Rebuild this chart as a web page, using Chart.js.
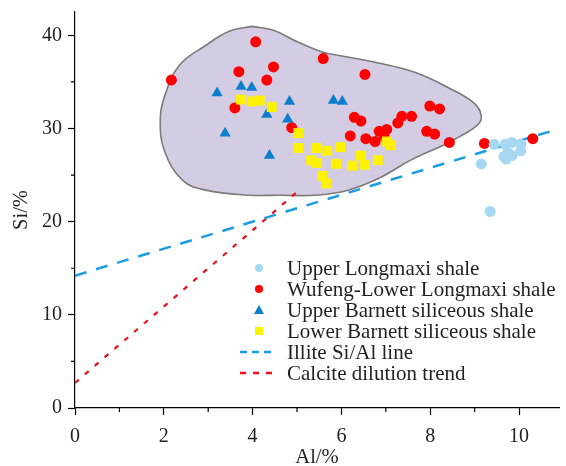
<!DOCTYPE html>
<html>
<head>
<meta charset="utf-8">
<script src="https://cdn.jsdelivr.net/npm/chart.js@4.4.0/dist/chart.umd.min.js"></script>
<style>
  html, body { margin: 0; padding: 0; background: #fff; }
  #wrap { width: 566px; height: 466px; }
</style>
</head>
<body>
<div id="wrap"><canvas id="siAlChart" width="566" height="466"></canvas></div>
<script>
// Si vs Al cross plot of shale samples

const upperLongmaxiAl = [9.44, 9.69, 9.84, 10.04, 10.04, 9.75, 9.66, 9.84, 9.71, 9.15, 9.35];
const upperLongmaxiSi = [28.3, 28.3, 28.5, 28.3, 27.6, 27.4, 27.0, 27.1, 26.7, 26.2, 21.1];

const wufengAl = [2.17, 4.07, 5.59, 4.47, 3.69, 4.32, 6.53, 3.60, 4.88, 6.29, 6.44, 6.20, 6.55, 6.76,
                  6.85, 7.02, 6.96, 7.27, 7.36, 7.58, 7.99, 8.21, 7.92, 8.10, 8.43, 9.22, 10.31];
const wufengSi = [35.2, 39.3, 37.5, 36.6, 36.1, 35.2, 35.8, 32.2, 30.1, 31.2, 30.8, 29.2, 28.9, 28.6,
                  29.7, 29.9, 29.2, 30.6, 31.3, 31.3, 32.4, 32.1, 29.7, 29.4, 28.5, 28.4, 28.9];

const upperBarnettAl = [3.20, 3.74, 3.98, 4.32, 3.38, 4.83, 4.79, 4.38, 5.82, 6.02];
const upperBarnettSi = [33.8, 34.5, 34.4, 31.5, 29.5, 32.9, 31.0, 27.1, 33.0, 32.9];

const lowerBarnettAl = [3.74, 3.98, 4.16, 4.43, 5.03, 5.03, 5.44, 5.68, 5.97, 5.32, 5.44, 5.88, 6.24,
                        6.53, 6.44, 6.82, 5.57, 5.66, 7.02, 7.11];
const lowerBarnettSi = [33.1, 32.9, 33.0, 32.3, 29.5, 27.9, 27.9, 27.6, 28.0, 26.6, 26.3, 26.2, 26.0,
                        26.1, 27.1, 26.6, 24.9, 24.1, 28.6, 28.2];

// envelope around the Barnett / Wufeng field
const envelopeAl = [3.98, 4.47, 5.03, 5.59, 6.04, 6.76, 7.65, 8.39, 8.99, 9.15, 9.06, 8.72, 8.39, 7.56,
                    6.89, 6.15, 5.41, 4.59, 3.91, 2.95, 2.42, 2.01, 1.92, 2.01, 2.35, 2.95, 3.47, 3.98];
const envelopeSi = [40.96, 40.54, 39.25, 38.18, 37.75, 37.10, 36.03, 34.42, 32.71, 31.31, 30.35, 29.28,
                    28.42, 26.60, 24.77, 23.38, 22.84, 22.84, 22.84, 23.38, 24.45, 27.67, 30.88, 33.35,
                    36.78, 38.93, 40.43, 40.96];

const illiteAl = [0, 10.85];
const illiteSi = [14.2, 29.9];
const calciteAl = [0, 5.03];
const calciteSi = [2.7, 23.3];

const xTicks = [0, 2, 4, 6, 8, 10];
const yTicks = [0, 10, 20, 30, 40];

const legendLabels = [
    'Upper Longmaxi shale',
    'Wufeng-Lower Longmaxi shale',
    'Upper Barnett siliceous shale',
    'Lower Barnett siliceous shale',
    'Illite Si/Al line',
    'Calcite dilution trend'
];

const serif = '"Liberation Serif", "Times New Roman", serif';
const textColor = '#231f20';

function pts(xs, ys) {
    return xs.map((x, i) => ({ x: x, y: ys[i] }));
}

// minor ticks + legend drawn on top
const extrasPlugin = {
    id: 'extras',
    afterDraw(chart) {
        const ctx = chart.ctx;
        const xs = chart.scales.x, ys = chart.scales.y;
        const area = chart.chartArea;
        ctx.save();
        ctx.strokeStyle = '#000';
        ctx.lineWidth = 1.2;
        ctx.beginPath();
        for (let v = 1; v <= 10; v += 2) {
            const px = xs.getPixelForValue(v);
            ctx.moveTo(px, area.bottom);
            ctx.lineTo(px, area.bottom + 4);
        }
        for (let v = 5; v <= 35; v += 10) {
            const py = ys.getPixelForValue(v);
            ctx.moveTo(area.left, py);
            ctx.lineTo(area.left - 4, py);
        }
        ctx.stroke();

        // legend
        const lx = 259, tx = 287, y0 = 268, dy = 21;
        ctx.font = '21px ' + serif;
        ctx.fillStyle = textColor;
        ctx.textBaseline = 'middle';
        ctx.textAlign = 'left';
        legendLabels.forEach((label, i) => {
            ctx.fillText(label, tx, y0 + i * dy + 1);
        });
        const y = i => y0 + i * dy;
        ctx.fillStyle = '#a6d8f2';
        ctx.beginPath(); ctx.arc(lx, y(0), 4, 0, Math.PI * 2); ctx.fill();
        ctx.fillStyle = '#ff0000';
        ctx.beginPath(); ctx.arc(lx, y(1), 4, 0, Math.PI * 2); ctx.fill();
        ctx.fillStyle = '#0b7fcb';
        ctx.beginPath();
        ctx.moveTo(lx, y(2) - 5); ctx.lineTo(lx + 5, y(2) + 4); ctx.lineTo(lx - 5, y(2) + 4);
        ctx.closePath(); ctx.fill();
        ctx.fillStyle = '#fff200';
        ctx.fillRect(lx - 4, y(3) - 4, 8, 8);
        ctx.lineWidth = 2.5;
        ctx.strokeStyle = '#1b9ce3';
        ctx.setLineDash([7, 5]);
        ctx.beginPath(); ctx.moveTo(240, y(4)); ctx.lineTo(276, y(4)); ctx.stroke();
        ctx.strokeStyle = '#e8101c';
        ctx.setLineDash([6, 7]);
        ctx.beginPath(); ctx.moveTo(240, y(5)); ctx.lineTo(276, y(5)); ctx.stroke();
        ctx.restore();
    }
};

document.addEventListener('DOMContentLoaded', function() {
    const ctx = document.getElementById('siAlChart').getContext('2d');

    new Chart(ctx, {
        type: 'scatter',
        data: {
            datasets: [
                {
                    label: 'envelope',
                    data: pts(envelopeAl, envelopeSi),
                    showLine: true,
                    fill: 'shape',
                    tension: 0.4,
                    borderColor: '#7a7a7a',
                    borderWidth: 1.6,
                    backgroundColor: '#d4cce3',
                    pointRadius: 0,
                    order: 10
                },
                {
                    label: legendLabels[4],
                    data: pts(illiteAl, illiteSi),
                    showLine: true,
                    borderColor: '#1b9ce3',
                    borderWidth: 2.5,
                    borderDash: [12, 10],
                    pointRadius: 0,
                    order: 8
                },
                {
                    label: legendLabels[5],
                    data: pts(calciteAl, calciteSi),
                    showLine: true,
                    borderColor: '#e8101c',
                    borderWidth: 2.2,
                    borderDash: [5, 8],
                    pointRadius: 0,
                    order: 8
                },
                {
                    label: legendLabels[1],
                    data: pts(wufengAl, wufengSi),
                    pointStyle: 'circle',
                    pointRadius: 5.5,
                    backgroundColor: '#ff0000',
                    borderWidth: 0,
                    order: 4
                },
                {
                    label: legendLabels[0],
                    data: pts(upperLongmaxiAl, upperLongmaxiSi),
                    pointStyle: 'circle',
                    pointRadius: 5.5,
                    backgroundColor: '#a6d8f2',
                    borderWidth: 0,
                    order: 3
                },
                {
                    label: legendLabels[2],
                    data: pts(upperBarnettAl, upperBarnettSi),
                    pointStyle: 'triangle',
                    pointRadius: 6.5,
                    backgroundColor: '#0b7fcb',
                    borderWidth: 0,
                    order: 2
                },
                {
                    label: legendLabels[3],
                    data: pts(lowerBarnettAl, lowerBarnettSi),
                    pointStyle: 'rect',
                    pointRadius: 7,
                    backgroundColor: '#fff200',
                    borderWidth: 0,
                    order: 1
                }
            ]
        },
        options: {
            responsive: false,
            animation: false,
            layout: { padding: { top: 12, right: 4, left: 0, bottom: 0 } },
            plugins: {
                legend: { display: false },
                tooltip: { enabled: false }
            },
            scales: {
                x: {
                    type: 'linear',
                    min: 0,
                    max: 10.9,
                    afterFit: s => { s.height = 58; s.paddingLeft = 0; s.paddingRight = 0; },
                    afterBuildTicks: s => { s.ticks = xTicks.map(v => ({ value: v })); },
                    ticks: { font: { family: serif, size: 20 }, color: textColor, padding: 10 },
                    grid: { drawOnChartArea: false, tickLength: 7, tickColor: '#000', tickWidth: 1.2 },
                    border: { color: '#000', width: 1.2 },
                    title: {
                        display: true, text: 'Al/%', color: textColor,
                        font: { family: serif, size: 20.5, lineHeight: 0.8 }, padding: { top: 0, bottom: 0 }
                    }
                },
                y: {
                    type: 'linear',
                    min: 0,
                    max: 42.5,
                    afterFit: s => { s.width = 75; s.paddingTop = 0; s.paddingBottom = 0; },
                    afterBuildTicks: s => { s.ticks = yTicks.map(v => ({ value: v })); },
                    ticks: { font: { family: serif, size: 20 }, color: textColor, padding: 6 },
                    grid: { drawOnChartArea: false, tickLength: 7, tickColor: '#000', tickWidth: 1.2 },
                    border: { color: '#000', width: 1.2 },
                    title: {
                        display: true, text: 'Si/%', color: textColor,
                        font: { family: serif, size: 20.5, lineHeight: 0.8 }, padding: { top: 13, bottom: 0 }
                    }
                }
            }
        },
        plugins: [extrasPlugin]
    });
});
</script>
</body>
</html>
